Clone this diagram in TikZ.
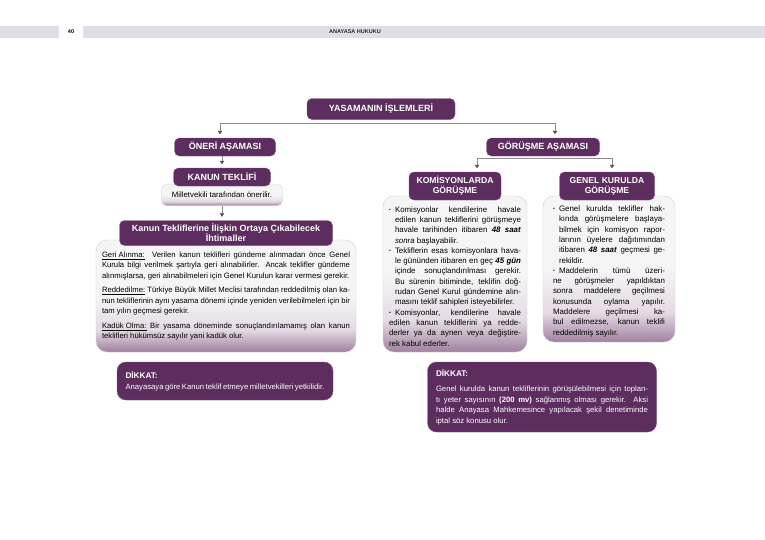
\documentclass[tikz,border=0pt]{standalone}
\usepackage{fontspec}
\setmainfont{Liberation Sans}
\usetikzlibrary{arrows.meta,positioning}
\definecolor{plum}{HTML}{5C2D5E}
\definecolor{plumedge}{HTML}{7A587C}
\definecolor{band}{HTML}{E3DEE5}
\definecolor{wire}{HTML}{8E8A8E}
\definecolor{tip}{HTML}{664868}
\definecolor{cardtop}{HTML}{F6F5F6}
\definecolor{cardmid}{HTML}{E4DAE4}
\definecolor{cardbot}{HTML}{A0819F}
\definecolor{cardline}{HTML}{D4CFD4}
\pgfdeclareverticalshading{cardfade}{100bp}{color(0bp)=(cardbot); color(25bp)=(cardbot); color(35bp)=(cardmid); color(50bp)=(cardtop); color(100bp)=(cardtop)}
\newcommand\bul{\par\hangindent=6pt\hangafter=1\noindent\makebox[6pt][l]{\raisebox{.8pt}{\fontsize{5}{5}\selectfont\textbullet}}}

\begin{document}
\begin{tikzpicture}[x=1pt,y=-1pt,
          hdr/.style={fill=band, minimum height=12pt, inner sep=0pt, anchor=north west},
          pbox/.style={draw=plumedge, fill=plum, rounded corners=5pt, text=white, align=center, inner sep=1pt, font=\fontsize{9}{9.8}\selectfont\bfseries},
          card/.style={draw=cardline, shade, shading=cardfade, rounded corners=11pt, inner xsep=6pt, inner ysep=3pt, align=justify, font=\fontsize{7.9}{10.3}\selectfont},
          note/.style={draw=plumedge, fill=plum, rounded corners=9pt, text=white, align=justify, inner xsep=8.5pt, font=\fontsize{7.7}{10.4}\selectfont},
          ln/.style={draw=wire, line width=0.9pt},
          arr/.style={ln, shorten >=3.5pt, -{Triangle[length=3.5pt,width=4.5pt,color=tip]}}]
        \fill[white] (0,0) rectangle (765,539);
        \useasboundingbox (0,0) rectangle (765,539);
        \node[hdr, minimum width=59pt] (bandl) at (0,26) {};
        \node[hdr, minimum width=682pt] (bandr) at (83,26) {};
        \node[font=\fontsize{5.5}{6}\selectfont\bfseries] (page) at (71,32) {40};
        \node[font=\fontsize{5.5}{6}\selectfont\bfseries, text=black!85] (running) at (355,32) {ANAYASA HUKUKU};
        \node[pbox, minimum width=148pt, minimum height=21pt, font=\fontsize{9}{10}\selectfont\bfseries] (islem) at (381,109) {YASAMANIN İŞLEMLERİ};
        \node[pbox, minimum width=101pt, minimum height=18pt] (oneri) at (225,147) {ÖNERİ AŞAMASI};
        \node[card, rounded corners=5pt, inner ysep=0pt, minimum width=121pt, minimum height=21pt, font=\fontsize{7.8}{9}\selectfont] (mv) at (222,195) {Milletvekili tarafından önerilir.};
        \node[pbox, minimum width=97pt, minimum height=18pt] (kanun) at (222,177) {KANUN TEKLİFİ};
        \node[card, text width=248pt, minimum height=112pt, font=\fontsize{7.7}{10.3}\selectfont] (olasi) at (226,296) {\underline{Geri Alınma:}\ \ Verilen kanun teklifleri gündeme alınmadan önce Genel\linebreak Kurula bilgi verilmek şartıyla geri alınabilirler. Ancak teklifler gündeme\linebreak alınmışlarsa, geri alınabilmeleri için Genel Kurulun karar vermesi gerekir.\par\vspace{4.5pt}
          \underline{Reddedilme:} Türkiye Büyük Millet Meclisi tarafından reddedilmiş olan ka-\linebreak nun tekliflerinin aynı yasama dönemi içinde yeniden verilebilmeleri için bir\linebreak tam yılın geçmesi gerekir.\par\vspace{4.5pt}
          \underline{Kadük Olma:} Bir yasama döneminde sonuçlandırılamamış olan kanun\linebreak teklifleri hükümsüz sayılır yani kadük olur.};
        \node[pbox, minimum width=213pt, minimum height=25pt, font=\fontsize{9}{9.8}\selectfont\bfseries] (ihtimal) at (226,233) {Kanun Tekliflerine İlişkin Ortaya Çıkabilecek\\İhtimaller};
        \node[note, text width=199pt, minimum height=38pt] (dikkatl) at (225,381) {{\fontsize{8.2}{10}\selectfont\bfseries DİKKAT:}\\[1pt]Anayasaya göre Kanun teklif etmeye milletvekilleri yetkilidir.};
        \node[pbox, minimum width=113pt, minimum height=18pt] (gorusme) at (543,147) {GÖRÜŞME AŞAMASI};
        \node[card, text width=132pt, minimum height=156pt] (komtext) at (455,274) {\bul Komisyonlar kendilerine havale\linebreak edilen kanun tekliflerini görüşmeye\linebreak havale tarihinden itibaren \textbf{\textit{48 saat}}\linebreak \textit{sonra} başlayabilir.
          \bul Tekliflerin esas komisyonlara hava-\linebreak le gününden itibaren en geç \textbf{\textit{45 gün}}\linebreak içinde sonuçlandırılması gerekir.\linebreak Bu sürenin bitiminde, teklifin doğ-\linebreak rudan Genel Kurul gündemine alın-\linebreak masını teklif sahipleri isteyebilirler.
          \bul Komisyonlar, kendilerine havale\linebreak edilen kanun tekliflerini ya redde-\linebreak derler ya da aynen veya değiştire-\linebreak rek kabul ederler.};
        \node[pbox, minimum width=92pt, minimum height=28pt, font=\fontsize{8.6}{9.8}\selectfont\bfseries] (kom) at (455,186) {KOMİSYONLARDA\\GÖRÜŞME};
        \node[card, inner xsep=10pt, text width=112pt, minimum height=146pt] (genteks) at (609,269) {\bul Genel kurulda teklifler hak-\linebreak kında görüşmelere başlaya-\linebreak bilmek için komisyon rapor-\linebreak larının üyelere dağıtımından\linebreak itibaren \textbf{\textit{48 saat}} geçmesi ge-\linebreak rekildir.
          \bul Maddelerin tümü üzeri-\linebreak ne görüşmeler yapıldıktan\linebreak sonra maddelere geçilmesi\linebreak konusunda oylama yapılır.\linebreak Maddelere geçilmesi ka-\linebreak bul edilmezse, kanun teklifi\linebreak reddedilmiş sayılır.};
        \node[pbox, minimum width=95pt, minimum height=28pt, font=\fontsize{8.6}{9.8}\selectfont\bfseries] (genel) at (607,186) {GENEL KURULDA\\GÖRÜŞME};
        \node[note, text width=212pt, minimum height=70pt] (dikkatr) at (542,397) {{\fontsize{8.2}{10}\selectfont\bfseries DİKKAT:}\\[5pt]Genel kurulda kanun tekliflerinin görüşülebilmesi için toplan-\linebreak tı yeter sayısının \textbf{(200 mv)} sağlanmış olması gerekir. Aksi\linebreak halde Anayasa Mahkemesince yapılacak şekil denetiminde\linebreak iptal söz konusu olur.};
        \coordinate (forkl) at (220,123);
        \coordinate (forkr) at (555,123);
        \coordinate (splitl) at (477,158);
        \coordinate (splitr) at (612,158);
        \draw[ln] (forkl) -- (forkr);
        \draw[arr] (forkl) -- (forkl |- oneri.north);
        \draw[arr] (forkr) -- (forkr |- gorusme.north);
        \draw[arr] (oneri.south -| kanun) -- (kanun.north);
        \draw[arr] (mv.south) -- (mv.south |- ihtimal.north);
        \draw[ln] (splitl) -- (splitr);
        \draw[arr] (splitl) -- (splitl |- kom.north);
        \draw[arr] (splitr) -- (splitr |- genel.north);
      \end{tikzpicture}
\end{document}
